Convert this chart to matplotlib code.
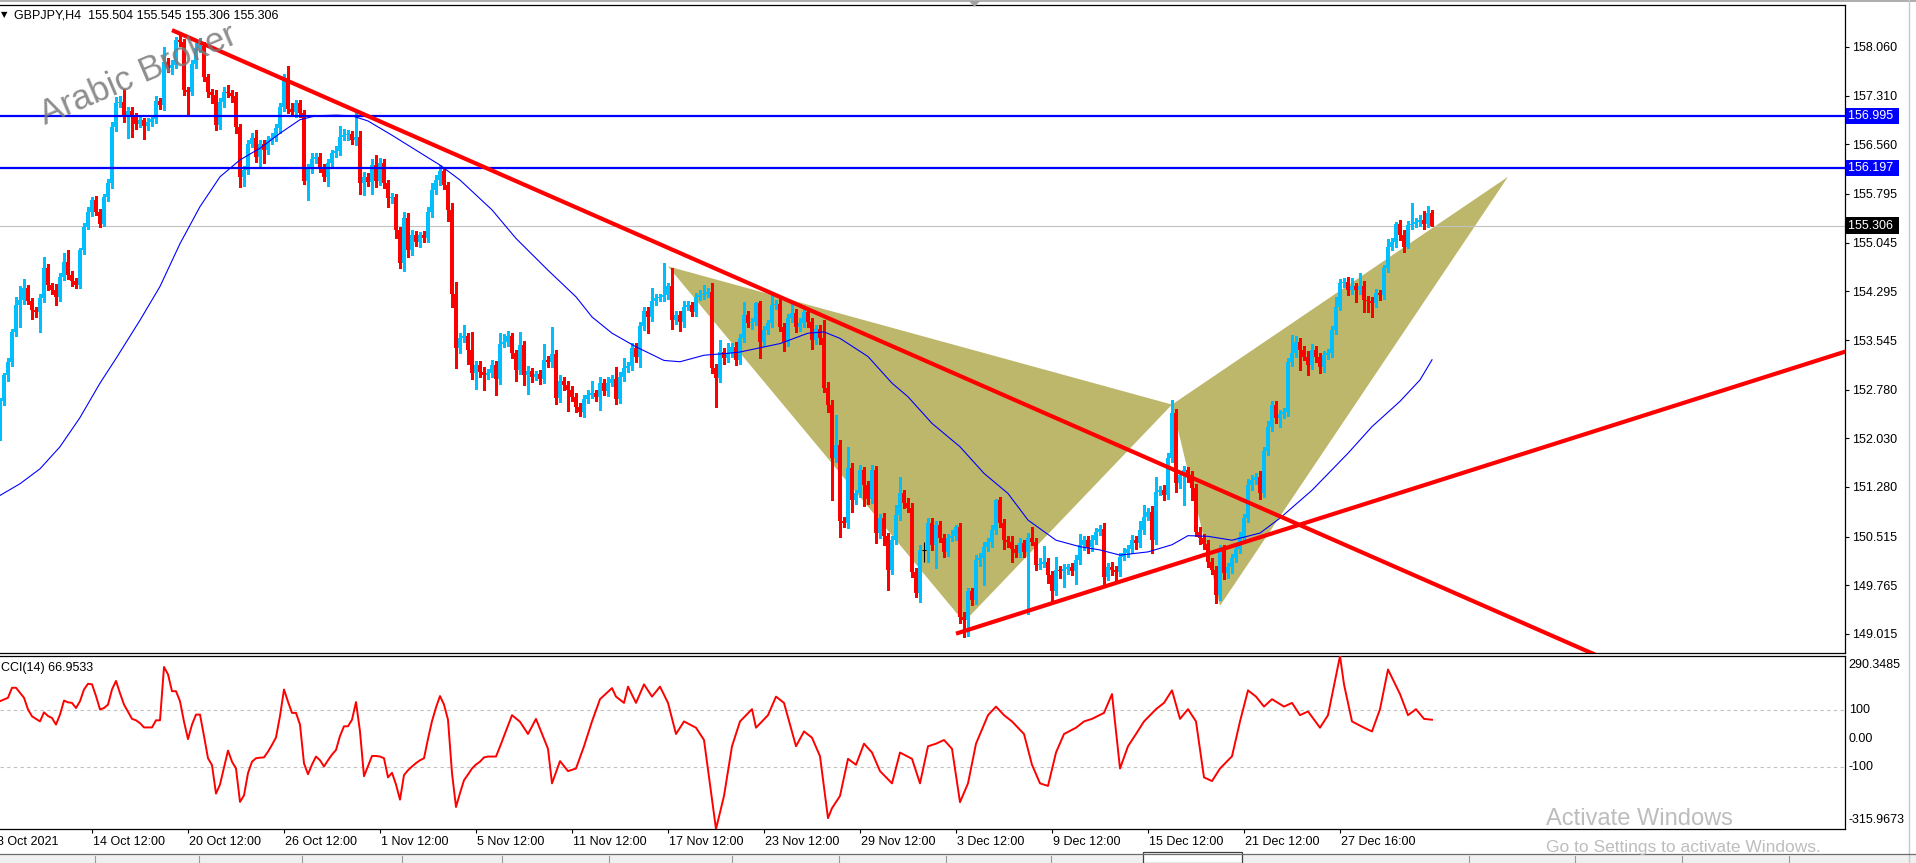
import matplotlib
matplotlib.use("Agg")
import matplotlib.pyplot as plt
import matplotlib.transforms as mtransforms
from matplotlib.patches import Polygon, Rectangle
import numpy as np

plt.rcParams['font.family'] = ['Liberation Sans', 'DejaVu Sans']

W, H = 1916, 863

# ---------------- data ----------------
header = "GBPJPY,H4  155.504 155.545 155.306 155.306"
cci_title = "CCI(14) 66.9533"

first_open = 152.10
# H4 closes, one per candle (10 per row)
closes = [float(v) for v in """
152.60 153.00 153.20 153.67 154.08 154.16 154.34 154.15 154.00 153.98
154.19 154.66 154.39 154.31 154.21 154.52 154.75 154.55 154.45 154.40
154.93 155.29 155.52 155.70 155.52 155.34 155.75 155.96 156.83 157.19
157.22 157.00 157.08 156.98 156.88 156.93 156.84 156.90 156.95 157.23
157.17 157.83 157.73 157.78 158.17 158.13 157.40 157.37 157.80 158.04
158.07 157.60 157.37 157.32 156.86 157.22 157.37 157.35 157.30 156.83
156.06 156.16 156.57 156.65 156.37 156.57 156.47 156.63 156.66 156.81
157.14 157.58 157.11 157.06 157.19 157.04 156.00 156.20 156.34 156.37
156.20 156.06 156.27 156.42 156.45 156.68 156.70 156.72 156.63 156.68
155.96 156.06 155.98 156.24 155.99 156.27 155.96 155.73 155.75 155.24
154.73 155.42 154.93 155.16 155.06 155.16 155.11 155.52 155.86 156.01
156.15 155.93 155.55 154.26 153.42 153.57 153.60 153.39 153.03 153.16
153.05 153.00 153.04 153.16 152.94 153.49 153.52 153.60 153.34 153.08
153.47 153.00 153.06 152.98 153.02 152.94 153.24 153.21 153.33 152.65
152.92 152.85 152.78 152.67 152.52 152.44 152.64 152.70 152.73 152.66
152.89 152.76 152.89 152.94 152.64 152.97 153.11 153.14 153.42 153.29
153.76 153.99 153.90 154.15 154.19 154.21 154.24 154.37 153.85 153.93
153.83 154.06 154.08 153.98 154.21 154.24 154.26 154.28 153.11 152.96
153.36 153.26 153.34 153.44 153.24 153.57 153.93 153.80 153.83 154.11
153.52 153.70 153.80 154.08 154.10 153.75 153.52 153.88 153.96 153.75
153.80 153.98 153.83 153.54 153.72 153.57 152.80 152.54 151.72 151.93
150.75 150.73 151.57 151.08 151.18 151.54 151.31 151.10 151.54 150.57
150.80 150.52 150.00 150.46 150.85 151.18 151.03 150.95 149.97 149.64
150.31 150.31 150.72 150.39 150.69 150.50 150.28 150.50 150.53 150.67
149.28 149.23 149.67 149.54 150.15 150.18 150.36 150.44 150.62 151.08
150.72 150.46 150.44 150.33 150.26 150.41 150.28 150.49 150.44 150.08
150.10 150.12 149.92 149.67 150.00 149.98 150.02 150.05 149.98 150.15
150.39 150.46 150.36 150.46 150.59 150.64 149.90 150.05 150.00 149.97
150.20 150.26 150.33 150.46 150.41 150.62 150.82 150.90 150.46 151.21
151.23 151.16 151.72 152.42 151.34 151.47 151.54 151.44 151.26 150.59
150.50 150.40 150.13 150.00 149.62 150.31 149.95 150.05 150.18 150.33
150.51 150.80 151.31 151.39 151.44 151.18 151.83 152.21 152.54 152.34
152.41 152.43 153.21 153.34 153.52 153.39 153.29 153.16 153.39 153.29
153.13 153.31 153.34 153.70 154.06 154.42 154.44 154.32 154.37 154.32
154.37 154.16 154.14 154.11 154.27 154.24 154.65 154.98 155.06 155.34
155.16 154.98 155.32 155.34 155.36 155.39 155.34 155.504 155.306
""".split()]

# upper / lower wick beyond the body, in 0.01 yen
wick_up = [int(v) / 100 for v in """
5 4 6 4 13 21 15 6 4 5
6 16 5 4 10 6 13 18 6 5
4 6 8 5 6 4 5 6 8 10
8 20 6 5 6 8 4 6 5 8
5 23 6 8 5 8 6 5 6 8
13 6 5 4 8 6 8 10 5 6
5 6 5 8 13 6 5 6 8 6
6 7 19 8 5 6 5 6 8 5
6 5 6 5 8 17 10 6 5 41
8 8 6 10 15 8 6 5 6 4
5 10 8 8 6 5 6 8 10 8
9 6 5 10 18 8 17 6 28 6
6 8 6 8 6 16 12 8 6 5
20 6 8 6 5 6 25 6 42 6
8 6 6 5 6 5 6 8 19 5
8 6 8 6 19 8 15 6 8 8
6 6 6 20 6 5 49 6 28 6
6 8 6 5 6 8 14 6 14 6
18 6 16 6 8 6 20 6 6 2
4 6 6 16 6 10 6 6 16 6
8 6 6 5 6 6 28 10 8 46
8 6 33 8 6 8 5 6 8 6
6 8 5 6 15 26 6 8 8 6
8 13 8 8 6 6 5 6 8 3
6 8 6 6 8 8 8 6 8 2
5 6 6 8 5 8 6 8 18 6
8 25 6 6 20 6 8 5 6 8
16 6 6 8 6 5 8 6 8 6
6 8 6 8 6 13 18 6 8 23
6 8 8 20 6 6 6 5 8 6
8 6 6 6 6 8 8 6 6 6
8 6 9 8 6 8 6 8 6 6
6 6 6 28 8 6 6 8 10 6
6 6 6 6 14 6 6 8 13 5
20 8 6 6 6 5 5 12 6 2
6 8 6 31 6 8 14 10 4
""".split()]

wick_dn = [int(v) / 100 for v in """
10 5 8 6 6 33 6 5 13 8
31 6 8 6 13 6 5 6 8 6
5 6 4 6 5 6 4 6 8 6
6 10 35 30 8 6 20 6 5 6
6 8 6 8 5 6 8 36 5 6
6 6 8 12 8 6 8 6 8 10
16 14 6 5 8 17 20 6 6 5
8 6 6 6 8 6 5 30 8 6
6 6 14 6 5 6 6 8 6 8
16 18 6 18 8 6 8 13 8 13
8 12 10 8 6 8 6 6 8 6
8 6 17 20 31 8 6 22 8 24
8 22 6 6 25 8 6 6 8 17
6 15 29 8 5 8 6 8 8 9
6 8 33 6 8 7 8 6 5 6
19 6 8 6 8 6 5 6 6 8
16 6 25 6 6 5 6 6 13 6
14 8 6 6 6 5 6 6 8 44
6 8 6 6 8 6 6 6 8 6
26 6 6 6 5 6 14 6 6 8
6 6 8 14 6 8 6 10 64 6
24 6 8 18 6 6 33 8 6 16
8 14 31 6 6 8 8 6 8 5
13 18 18 8 36 6 8 6 5 6
10 26 25 8 6 8 41 6 8 6
6 14 8 20 6 6 8 95 6 8
6 6 12 18 6 10 24 8 6 20
6 8 10 6 6 5 16 6 8 17
6 5 6 6 8 6 6 5 20 6
6 8 6 6 14 8 46 8 18 6
10 8 8 6 13 8 9 8 10 6
6 8 6 8 6 8 6 6 6 8
13 6 6 6 5 31 6 16 6 8
10 8 6 6 6 6 6 8 6 19
6 18 16 21 6 8 6 6 5 8
8 8 2 6 5 6 8 6 0
""".split()]

# moving average (blue), read at candle positions
ma_idx = [0, 5, 10, 15, 20, 25, 29, 35, 40, 45, 50, 55, 60, 65, 70, 75, 79, 84, 88, 92,
          98, 104, 110, 115, 123, 129, 137, 144, 148, 153, 159, 166, 170, 176, 182, 185,
          195, 202, 206, 210, 217, 223, 227, 233, 240, 246, 252, 257, 264, 270, 275, 280,
          287, 293, 297, 302, 308, 315, 320, 328, 337, 343, 350, 355, 358]
ma_val = [151.15, 151.33, 151.56, 151.9, 152.35, 152.88, 153.26, 153.85, 154.37, 155.03,
          155.6, 156.06, 156.32, 156.5, 156.73, 156.94, 157.0, 157.01, 157.0, 156.92,
          156.7, 156.47, 156.24, 156.01, 155.55, 155.11, 154.62, 154.21, 153.9, 153.65,
          153.44, 153.23, 153.21, 153.31, 153.34, 153.36, 153.49, 153.65, 153.67, 153.57,
          153.29, 152.88, 152.67, 152.26, 151.9, 151.49, 151.18, 150.77, 150.46, 150.36,
          150.31, 150.23, 150.28, 150.39, 150.53, 150.52, 150.46, 150.57, 150.8, 151.23,
          151.8, 152.21, 152.6, 152.93, 153.24]

# CCI(14) read at candle positions
cci_idx = [0, 2, 3, 4, 6, 7, 8, 10, 11, 12, 13, 14, 15, 16, 17, 18, 19, 20, 21, 22, 23, 24,
           25, 26, 27, 28, 29, 30, 31, 32, 33, 34, 35, 36, 37, 38, 39, 40, 41, 42, 43, 44, 45,
           46, 47, 48, 49, 50, 51, 52, 53, 54, 55, 56, 57, 58, 59, 60, 61, 62, 63, 64, 65, 66,
           67, 68, 69, 70, 71, 72, 73, 74, 75, 76, 77, 78, 79, 80, 81, 82, 83, 84, 85, 86, 87,
           88, 89, 90, 91, 92, 93, 94, 95, 96, 97, 98, 99, 100, 101, 102, 103, 104, 105, 106,
           107, 108, 109, 110, 111, 112, 113, 114, 115, 116, 117, 118, 119, 120, 121, 122, 123,
           124, 125, 128, 130, 132, 134, 137, 138, 140, 142, 144, 146, 148, 150, 153, 154, 156,
           157, 159, 161, 163, 165, 167, 169, 171, 174, 176, 179, 181, 183, 185, 188, 189, 192,
           194, 196, 199, 201, 203, 205, 207, 208, 210, 212, 214, 216, 218, 220, 223, 225, 228,
           230, 232, 234, 236, 238, 240, 242, 244, 247, 249, 251, 253, 256, 258, 260, 262, 264,
           266, 269, 271, 273, 276, 278, 280, 282, 284, 286, 289, 291, 293, 295, 297, 299, 301,
           303, 305, 308, 310, 312, 314, 316, 318, 321, 323, 325, 327, 330, 332, 335, 336, 338,
           341, 343, 345, 347, 350, 352, 354, 356, 358]
cci_val = [132, 144, 179, 179, 144, 103, 79, 61, 93, 80, 73, 50, 85, 134, 128, 126, 108, 132,
           173, 193, 191, 150, 103, 108, 120, 173, 203, 160, 120, 95, 70, 65, 55, 40, 40, 40,
           65, 65, 252, 226, 167, 167, 132, 60, -1, 50, 85, 85, 10, -68, -92, -192, -160, -100,
           -41, -80, -104, -221, -198, -120, -80, -68, -66, -65, -45, -21, 5, 80, 173, 130, 91,
           91, 50, -86, -124, -90, -62, -75, -97, -75, -55, -39, 10, 44, 44, 67, 129, 26, -131,
           -95, -60, -60, -62, -68, -135, -119, -160, -213, -127, -110, -97, -85, -75, -68, 0,
           62, 110, 150, 120, 67, -120, -239, -190, -145, -125, -104, -90, -80, -65, -62, -62,
           -62, -27, 83, 60, 17, 70, -35, -156, -78, -113, -104, -26, 61, 139, 178, 148, 126,
           183, 126, 191, 148, 183, 126, 17, 61, 39, -4, -316, -200, -26, 61, 104, 39, 83, 148,
           126, -26, 26, 4, -61, -278, -243, -200, -70, -91, -17, -48, -113, -156, -48, -70,
           -156, -26, -17, -4, -35, -222, -156, -17, 83, 113, 83, 61, 17, -91, -156, -165, -48,
           17, 39, 61, 70, 91, 157, -104, -26, 17, 61, 104, 126, 170, 70, 104, 61, -135, -148,
           -104, -61, 61, 170, 148, 113, 139, 113, 126, 83, 96, 39, 83, 290, 191, 61, 39, 26,
           104, 243, 157, 83, 104, 70, 67]

h_levels = [156.995, 156.197]
bid = 155.306
price_ticks = [158.060, 157.310, 156.560, 155.795, 155.045, 154.295, 153.545,
               152.780, 152.030, 151.280, 150.515, 149.765, 149.015]
cci_levels = [100, -100]
cci_max, cci_min = 290.3485, -315.9673

date_idx = [-1, 23, 47, 71, 95, 119, 143, 167, 191, 215, 239, 263, 287, 311, 335]
date_labels = ["8 Oct 2021", "14 Oct 12:00", "20 Oct 12:00", "26 Oct 12:00", "1 Nov 12:00",
               "5 Nov 12:00", "11 Nov 12:00", "17 Nov 12:00", "23 Nov 12:00", "29 Nov 12:00",
               "3 Dec 12:00", "9 Dec 12:00", "15 Dec 12:00", "21 Dec 12:00", "27 Dec 16:00"]

# trendlines: two anchor points (candle, price), extended to the right
trend_down = [(43, 158.32), (270, 152.18)]
trend_up = [(239, 149.02), (461, 153.36)]
# harmonic pattern points X, A, B, C, D
pat_x, pat_a, pat_b, pat_c, pat_d = (167, 154.68), (241, 149.2), (293, 152.55), (305, 149.45), (377, 156.06)

# terminal tab strip: separators (pixel x) and the active tab span
tab_edges = [95, 199, 302, 402, 502, 609, 732, 839, 946, 1051, 1469, 1575, 1682, 1789]
active_tab = (1143, 1242)

BULL = "#00BFFF"
BEAR = "#FF0000"
FILL = "#BDB76B"

# ---------------- figure ----------------
fig = plt.figure(figsize=(W / 100, H / 100), dpi=100)


def box(l, t, r, b):
    return [l / W, 1 - b / H, (r - l) / W, (b - t) / H]


ax = fig.add_axes(box(0, 5, 1845, 653))
axc = fig.add_axes(box(0, 656, 1845, 829))
XMAX = 1845 / 4.0
for a in (ax, axc):
    a.set_xlim(0, XMAX)
    a.spines['left'].set_visible(False)
    for s in ('top', 'right', 'bottom'):
        a.spines[s].set_linewidth(0.9)
    a.set_xticks([])

ax.set_ylim(148.722, 158.707)

# pattern fill (background)
ax.add_patch(Polygon([pat_x, pat_a, pat_b], closed=True, fc=FILL, ec='none', zorder=1))
ax.add_patch(Polygon([pat_b, pat_c, pat_d], closed=True, fc=FILL, ec='none', zorder=1))

# candles
c = np.array(closes)
o = np.r_[first_open, c[:-1]]
idx = np.arange(len(c))
body_lo = np.minimum(o, c)
body_hi = np.maximum(o, c)
hi = body_hi + np.array(wick_up)
lo = body_lo - np.array(wick_dn)
px_per_yen = 648 / (158.707 - 148.722)
body_hi_draw = np.maximum(body_hi, body_lo + 1.0 / px_per_yen)
for mask, col in ((c > o, BULL), (c < o, BEAR)):
    ax.vlines(idx[mask], lo[mask], hi[mask], color=col, lw=0.8, zorder=3, antialiased=False)
    ax.bar(idx[mask], (body_hi_draw - body_lo)[mask], bottom=body_lo[mask], width=0.78,
           color=col, linewidth=0, zorder=3, antialiased=False)
flat = c == o
ax.vlines(idx[flat], lo[flat], hi[flat], color='black', lw=0.8, zorder=3)
ax.hlines(c[flat], idx[flat] - 0.4, idx[flat] + 0.4, color='black', lw=0.8, zorder=3)

# moving average
ax.plot(ma_idx, ma_val, color='#0000FF', lw=0.8, zorder=4)

# horizontal levels and bid line
for lv in h_levels:
    ax.axhline(lv, color='#0000FF', lw=1.6, zorder=5)
ax.axhline(bid, color='#C0C0C0', lw=0.8, zorder=2)


def extend(p0, p1, x_end):
    (x0, y0), (x1, y1) = p0, p1
    k = (y1 - y0) / (x1 - x0)
    return [x0, x_end], [y0, y0 + k * (x_end - x0)]


xs, ys = extend(trend_down[0], trend_down[1], 470)
ax.plot(xs, ys, color=BEAR, lw=3.0, zorder=5, solid_capstyle='butt')
xs, ys = extend(trend_up[0], trend_up[1], 470)
ax.plot(xs, ys, color=BEAR, lw=3.0, zorder=5, solid_capstyle='butt')

# watermark
ax.text(34.5, 157.62, "Arabic Broker", fontsize=25, color='#7a7a7a', alpha=0.85,
        rotation=23, ha='center', va='center', rotation_mode='anchor', zorder=6)

# price axis
ax.yaxis.tick_right()
ax.set_yticks(price_ticks)
ax.set_yticklabels([f"{v:.3f}" for v in price_ticks])
ax.tick_params(axis='y', direction='out', length=3, width=0.8, pad=2, labelsize=9)
bt = mtransforms.blended_transform_factory(ax.transAxes, ax.transData)
for lv, bg in ((h_levels[0], '#0000FF'), (h_levels[1], '#0000FF'), (bid, '#000000')):
    ax.text(1.0017, lv, f"{lv:.3f} ", transform=bt, ha='left', va='center', fontsize=9,
            color='white', clip_on=False, zorder=7,
            bbox=dict(boxstyle='square,pad=0.18', fc=bg, ec='none'))

# ---------------- CCI panel ----------------
axc.set_ylim(cci_min, cci_max)
axc.set_yticks([])
for lv in cci_levels:
    axc.axhline(lv, color='#C0C0C0', lw=0.8, ls=(0, (3, 3)), zorder=1)
axc.plot(cci_idx, cci_val, color=BEAR, lw=1.4, zorder=3)
axc.text(0.0005, 0.965, cci_title, transform=axc.transAxes, ha='left', va='top', fontsize=9)
ct = mtransforms.blended_transform_factory(axc.transAxes, axc.transData)
axc.text(1.002, cci_max - 10, f"{cci_max:.4f}", transform=ct, ha='left', va='top', fontsize=9, clip_on=False)
axc.text(1.002, cci_min + 10, f"{cci_min:.4f}", transform=ct, ha='left', va='bottom', fontsize=9, clip_on=False)
for lv, lab in ((100, "100"), (0, "0.00"), (-100, "-100")):
    axc.text(1.002, lv, lab, transform=ct, ha='left', va='center', fontsize=9, clip_on=False)

# time axis
dt = mtransforms.blended_transform_factory(axc.transData, axc.transAxes)
axc.vlines(date_idx, -0.025, 0, transform=dt, color='black', lw=0.8, clip_on=False)
for i, lab in zip(date_idx, date_labels):
    axc.text(i + 0.2, -0.04, lab, transform=dt, ha='left', va='top', fontsize=9, clip_on=False)

# ---------------- window decorations ----------------
fig.text(14 / W, 1 - 15 / H, header, ha='left', va='center', fontsize=9)
fig.text(1 / W, 1 - 15 / H, "\u25BC", ha='left', va='center', fontsize=6, family='DejaVu Sans')
fig.patches.append(Polygon([(969 / W, 1 - 1 / H), (980 / W, 1 - 1 / H), (974.5 / W, 1 - 7 / H)],
                           closed=True, transform=fig.transFigure, fc='#A0A0A0', ec='none'))
fig.lines.append(plt.Line2D([0, 1], [1 - 1.5 / H] * 2, transform=fig.transFigure, color='#A0A0A0', lw=1.2))
fig.lines.append(plt.Line2D([1908.5 / W] * 2, [0, 1], transform=fig.transFigure, color='#C8C8C8', lw=1.0))

# tab strip at the very bottom
fig.patches.append(Rectangle((0, 0), 1, 9 / H, transform=fig.transFigure, fc='#F0F0F0', ec='none'))
fig.lines.append(plt.Line2D([0, 1], [9 / H] * 2, transform=fig.transFigure, color='#6E6E6E', lw=0.9))
for xe in tab_edges:
    fig.lines.append(plt.Line2D([xe / W] * 2, [0, 7 / H], transform=fig.transFigure,
                                color='#9A9A9A', lw=0.8))
a0, a1 = active_tab
fig.patches.append(Rectangle((a0 / W, 0), (a1 - a0) / W, 11 / H, transform=fig.transFigure,
                             fc='white', ec='#404040', lw=0.9))

fig.text(1546 / W, 1 - 819 / H, "Activate Windows", fontsize=17, color='#BDBDBD', ha='left', va='center')
fig.text(1546 / W, 1 - 847 / H, "Go to Settings to activate Windows.", fontsize=12.5, color='#BDBDBD',
         ha='left', va='center')

fig.savefig("out.png", dpi=100, facecolor='white')
